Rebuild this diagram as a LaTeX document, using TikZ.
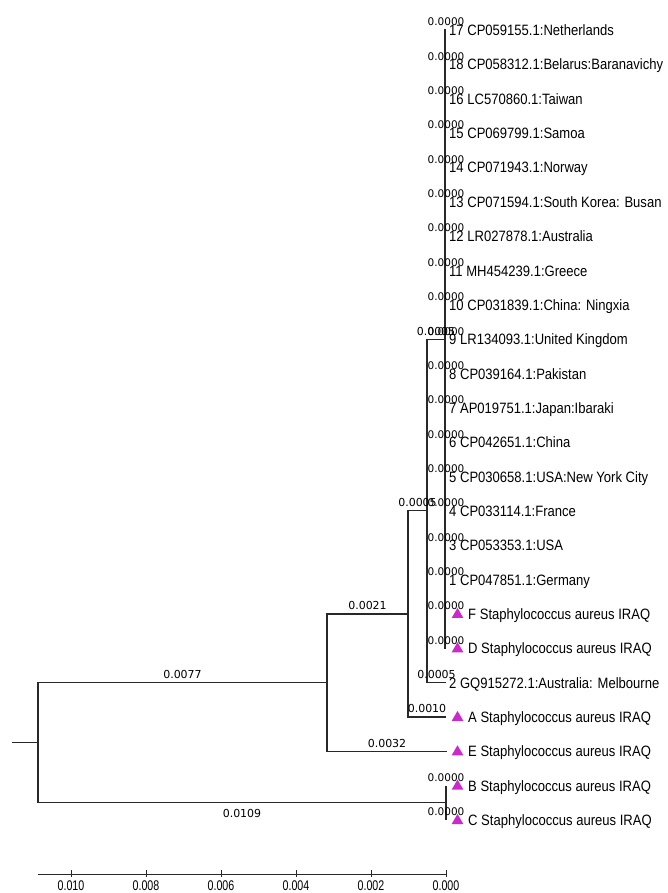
\documentclass[tikz,border=0pt]{standalone}
\usepackage{fontspec}
\setmainfont{Liberation Sans}
\newfontfamily\leaffont[FakeStretch=0.87]{Liberation Sans}
\newfontfamily\axfont[FakeStretch=0.76]{Liberation Sans}
\newfontfamily\lenfont{DejaVu Sans}
\usetikzlibrary{calc,shapes.geometric}
\definecolor{megapink}{RGB}{204,40,204}
\definecolor{treegray}{RGB}{40,40,40}

\begin{document}
\begin{tikzpicture}[x=1pt, y=-1pt,
    branch/.style={draw=treegray, line width=1.1pt},
    axisline/.style={draw=treegray, line width=0.9pt},
    leaf/.style={anchor=west, inner sep=3pt, text height=11pt, text depth=0pt, font=\leaffont\fontsize{15}{15}\selectfont},
    zlen/.style={above=4pt, inner sep=0pt, text height=7.5pt, text depth=0pt, font=\lenfont\fontsize{10.5}{10.5}\selectfont},
    ilen/.style={inner sep=0pt, text height=8pt, text depth=0pt, font=\lenfont\fontsize{11}{11}\selectfont},
    tri/.style={regular polygon, regular polygon sides=3, fill=megapink, inner sep=0pt, minimum size=13.5pt},
    axlab/.style={anchor=north, inner sep=0pt, text height=10pt, text depth=0pt, font=\axfont\fontsize{14}{14}\selectfont}]
    \useasboundingbox (0,0) rectangle (668,893);

    \node[leaf] (l17) at (446,30) {17 CP059155.1:Netherlands};
    \node[leaf] (l18) at (446,64.4) {18 CP058312.1:Belarus:Baranavichy};
    \node[leaf] (l16) at (446,98.7) {16 LC570860.1:Taiwan};
    \node[leaf] (l15) at (446,133.1) {15 CP069799.1:Samoa};
    \node[leaf] (l14) at (446,167.4) {14 CP071943.1:Norway};
    \node[leaf] (l13) at (446,201.8) {13 CP071594.1:South Korea: Busan};
    \node[leaf] (l12) at (446,236.1) {12 LR027878.1:Australia};
    \node[leaf] (l11) at (446,270.5) {11 MH454239.1:Greece};
    \node[leaf] (l10) at (446,304.8) {10 CP031839.1:China: Ningxia};
    \node[leaf] (l9) at (446,339.2) {9 LR134093.1:United Kingdom};
    \node[leaf] (l8) at (446,373.5) {8 CP039164.1:Pakistan};
    \node[leaf] (l7) at (446,407.9) {7 AP019751.1:Japan:Ibaraki};
    \node[leaf] (l6) at (446,442.2) {6 CP042651.1:China};
    \node[leaf] (l5) at (446,476.6) {5 CP030658.1:USA:New York City};
    \node[leaf] (l4) at (446,510.9) {4 CP033114.1:France};
    \node[leaf] (l3) at (446,545.3) {3 CP053353.1:USA};
    \node[leaf] (l1) at (446,579.6) {1 CP047851.1:Germany};
    \node[leaf] (l2) at (446,682.7) {2 GQ915272.1:Australia: Melbourne};

    \coordinate (xF) at (446,614);
    \node[tri] (tF) at (457.5,614.6) {};
    \node[leaf] (lF) at (465,614) {F Staphylococcus aureus IRAQ};
    \coordinate (xD) at (446,648.3);
    \node[tri] (tD) at (457.5,648.9) {};
    \node[leaf] (lD) at (465,648.3) {D Staphylococcus aureus IRAQ};
    \coordinate (xA) at (446,717);
    \node[tri] (tA) at (457.5,717.6) {};
    \node[leaf] (lA) at (465,717) {A Staphylococcus aureus IRAQ};
    \coordinate (xE) at (447,751.4);
    \node[tri] (tE) at (457.5,752) {};
    \node[leaf] (lE) at (465,751.4) {E Staphylococcus aureus IRAQ};
    \coordinate (xB) at (446,785.7);
    \node[tri] (tB) at (457.5,786.3) {};
    \node[leaf] (lB) at (465,785.7) {B Staphylococcus aureus IRAQ};
    \coordinate (xC) at (446,820.1);
    \node[tri] (tC) at (457.5,820.7) {};
    \node[leaf] (lC) at (465,820.1) {C Staphylococcus aureus IRAQ};

    \coordinate (stem) at (12,742.8);
    \coordinate (root) at (38,742.8);
    \coordinate (n1) at (327,682.7);
    \coordinate (bc) at (446,802.9);
    \coordinate (n2) at (408,614);
    \coordinate (n3) at (427,510.9);
    \coordinate (cl) at (445,339.2);

    \draw[branch] (stem) -- (root);
    \draw[branch] (root) |- (n1);
    \draw[branch] (root) |- (bc);
    \draw[branch] (n1) |- (n2);
    \draw[branch] (n1) |- (xE);
    \draw[branch] (n2) |- (n3);
    \draw[branch] (n2) |- (xA);
    \draw[branch] (n3) |- (cl);
    \draw[branch] (n3) |- (l2.west);
    \draw[branch] (cl) |- (l17.west);
    \draw[branch] (cl) |- (xD);
    \draw[branch] (bc) |- (xB);
    \draw[branch] (bc) |- (xC);

    \foreach \k in {17,18,16,15,14,13,12,11,10,9,8,7,6,5,4,3,1}
      \node[zlen] (z\k) at (l\k.west) {0.0000};
    \foreach \k in {F,D,B,C}
      \node[zlen] (z\k) at (x\k) {0.0000};

    \node[ilen, above=4pt] (b77) at ($(root |- n1)!0.5!(n1)$) {0.0077};
    \node[ilen, below=6pt] (b109) at ($(root |- bc)!0.5!(bc)$) {0.0109};
    \node[ilen, above=4pt] (b21) at ($(n1 |- n2)!0.5!(n2)$) {0.0021};
    \node[ilen, above=4pt] (b32) at ($(n1 |- xE)!0.5!(xE)$) {0.0032};
    \node[ilen, above=4pt] (b05a) at ($(n2 |- n3)!0.5!(n3)$) {0.0005};
    \node[ilen, above=4pt] (b10) at ($(n2 |- xA)!0.5!(xA)$) {0.0010};
    \node[ilen, above=4pt] (b05b) at ($(n3 |- cl)!0.5!(cl)$) {0.0005};
    \node[ilen, above=4pt] (b05c) at ($(n3 |- l2.west)!0.5!(l2.west)$) {0.0005};

    \coordinate (a0) at (38,874);
    \coordinate (a1) at (446,874);
    \draw[axisline] (a0) -- (a1);
    \foreach \v/\x in {0.010/71,0.008/146,0.006/221,0.004/296,0.002/371,0.000/446} {
      \draw[axisline] (\x,870) -- (\x,877);
      \node[axlab] (s\x) at (\x,880) {\v};
    }
\end{tikzpicture}
\end{document}
